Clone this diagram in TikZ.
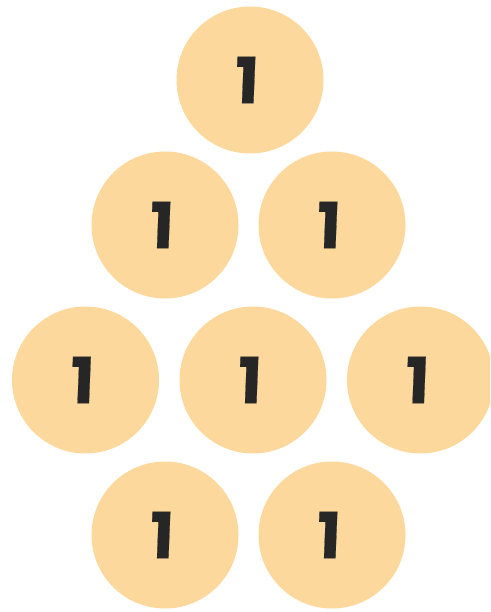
\documentclass[tikz,border=0pt]{standalone}
\usepackage{fontspec}
\setmainfont{Poppins}
\newfontfamily\digitfont[FakeSlant=0.04,FakeBold=0.3]{Poppins Bold}
\definecolor{ball}{HTML}{FCD89C}
\definecolor{digit}{HTML}{262626}
\newcommand{\one}{1\kern8pt}
\begin{document}
\begin{tikzpicture}[x=1pt,y=-1pt,
  ballnode/.style={circle,fill=ball,minimum size=147pt,inner sep=0pt,
    font=\digitfont\fontsize{64}{64}\selectfont,text=digit}]
\clip (0,0) rectangle (490,612);
\useasboundingbox (0,0) rectangle (490,612);
\node[ballnode] (a) at (250,80) {\one};
\node[ballnode] (b1) at (165,225) {\one};
\node[ballnode] (b2) at (332,225) {\one};
\node[ballnode] (c1) at (85.5,380) {\one};
\node[ballnode] (c2) at (253,380) {\one};
\node[ballnode] (c3) at (420.5,380) {\one};
\node[ballnode] (d1) at (165,535) {\one};
\node[ballnode] (d2) at (332,535) {\one};
\end{tikzpicture}
\end{document}
